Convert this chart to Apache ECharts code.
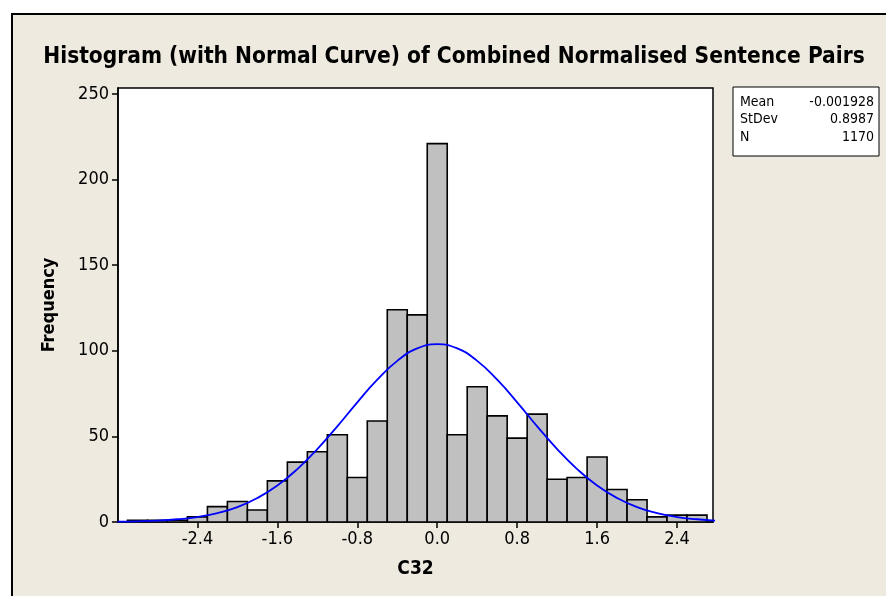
<!DOCTYPE html>
<html>
<head>
<meta charset="utf-8">
<script src="https://cdn.jsdelivr.net/npm/echarts@6/dist/echarts.min.js"></script>
<style>
html,body{margin:0;padding:0;background:#fff;}
#chart{width:886px;height:596px;}
</style>
</head>
<body>
<div id="chart"></div>
<script>
// ---- data ----
const binCenters = [-3.0,-2.8,-2.6,-2.4,-2.2,-2.0,-1.8,-1.6,-1.4,-1.2,-1.0,-0.8,-0.6,-0.4,-0.2,0.0,0.2,0.4,0.6,0.8,1.0,1.2,1.4,1.6,1.8,2.0,2.2,2.4,2.6];
const frequencies = [1,1,1,3,9,12,7,24,35,41,51,26,59,124,121,221,51,79,62,49,63,25,26,38,19,13,3,4,4];
const binWidth = 0.2;
const curveX = [-3.2,-3.0,-2.8,-2.6,-2.4,-2.2,-2.0,-1.8,-1.6,-1.4,-1.2,-1.0,-0.8,-0.6,-0.4,-0.2,0.0,0.2,0.4,0.6,0.8,1.0,1.2,1.4,1.6,1.8,2.0,2.2,2.4,2.6,2.8];
const curveY = [0.2,0.4,0.8,1.6,2.9,5.2,8.7,14.0,21.3,30.9,42.6,55.9,69.9,83.1,94.1,101.4,103.9,101.4,94.1,83.1,69.9,55.9,42.6,30.9,21.3,14.0,8.7,5.2,2.9,1.6,0.8];
const xTicks = [-2.4,-1.6,-0.8,0.0,0.8,1.6,2.4];
const yTicks = [0,50,100,150,200,250];
const statLabels = ['Mean','StDev','N'];
const statValues = ['-0.001928','0.8987','1170'];
const titleText = 'Histogram (with Normal Curve) of Combined Normalised Sentence Pairs';

const FONT = '"DejaVu Sans Condensed","DejaVu Sans",sans-serif';
const chart = echarts.init(document.getElementById('chart'), null, {renderer:'canvas'});

const barData = binCenters.map((c,i)=>[c, frequencies[i]]);
const lineData = curveX.map((x,i)=>[x, curveY[i]]);

const statGraphics = [];
statLabels.forEach((l,i)=>{
  statGraphics.push({type:'text', x:740, y:102 + i*17.5, style:{text:l, font:'14px '+FONT, fill:'#000', textAlign:'left', textVerticalAlign:'middle'}, z:20});
  statGraphics.push({type:'text', x:874, y:102 + i*17.5, style:{text:statValues[i], font:'14px '+FONT, fill:'#000', textAlign:'right', textVerticalAlign:'middle'}, z:20});
});

chart.setOption({
  backgroundColor:'#ffffff',
  animation:false,
  graphic:[
    {type:'rect', shape:{x:12, y:14, width:890, height:600}, style:{fill:'#EEEAE0', stroke:'#000', lineWidth:2}, z:-10, silent:true},
    {type:'text', x:454, y:57, style:{text:titleText, font:'bold 22.5px '+FONT, fill:'#000', textAlign:'center', textVerticalAlign:'middle'}, z:20},
    {type:'rect', shape:{x:733, y:87, width:146, height:69}, style:{fill:'#fff', stroke:'#000', lineWidth:1}, z:10},
    ...statGraphics
  ],
  grid:{left:118, right:173, top:88, bottom:74, show:true, backgroundColor:'#fff', borderColor:'#000', borderWidth:1.5, z:0},
  xAxis:{
    type:'value', min:-3.195, max:2.76,
    name:'C32', nameLocation:'middle', nameGap:38,
    nameTextStyle:{fontFamily:FONT, fontWeight:'bold', fontSize:19, color:'#000'},
    axisLine:{show:true, onZero:false, lineStyle:{color:'#000', width:1.5}},
    axisTick:{show:true, inside:false, length:6, customValues:xTicks, lineStyle:{color:'#000', width:1.5}},
    axisLabel:{show:true, customValues:xTicks, formatter:v=>Number(v).toFixed(1), fontFamily:FONT, fontSize:18, color:'#000', margin:8},
    splitLine:{show:false}
  },
  yAxis:{
    type:'value', min:0, max:253.5,
    name:'Frequency', nameLocation:'middle', nameGap:60, nameRotate:90,
    nameTextStyle:{fontFamily:FONT, fontWeight:'bold', fontSize:18, color:'#000'},
    axisLine:{show:true, onZero:false, lineStyle:{color:'#000', width:1.5}},
    axisTick:{show:true, inside:false, length:6, customValues:yTicks, lineStyle:{color:'#000', width:1.5}},
    axisLabel:{show:true, customValues:yTicks, fontFamily:FONT, fontSize:18, color:'#000', margin:9},
    splitLine:{show:false}
  },
  series:[
    {
      type:'custom', data:barData, clip:true, z:2,
      renderItem:function(params, api){
        const c = api.value(0), h = api.value(1);
        const p1 = api.coord([c - binWidth/2, h]);
        const p2 = api.coord([c + binWidth/2, 0]);
        return {type:'rect', shape:{x:p1[0], y:p1[1], width:p2[0]-p1[0], height:p2[1]-p1[1]},
          style:{fill:'#C0C0C0', stroke:'#000', lineWidth:1.6}};
      }
    },
    {
      type:'line', data:lineData, smooth:true, showSymbol:false, clip:true, z:3,
      lineStyle:{color:'#0000FF', width:1.8}
    }
  ]
});
</script>
</body>
</html>
